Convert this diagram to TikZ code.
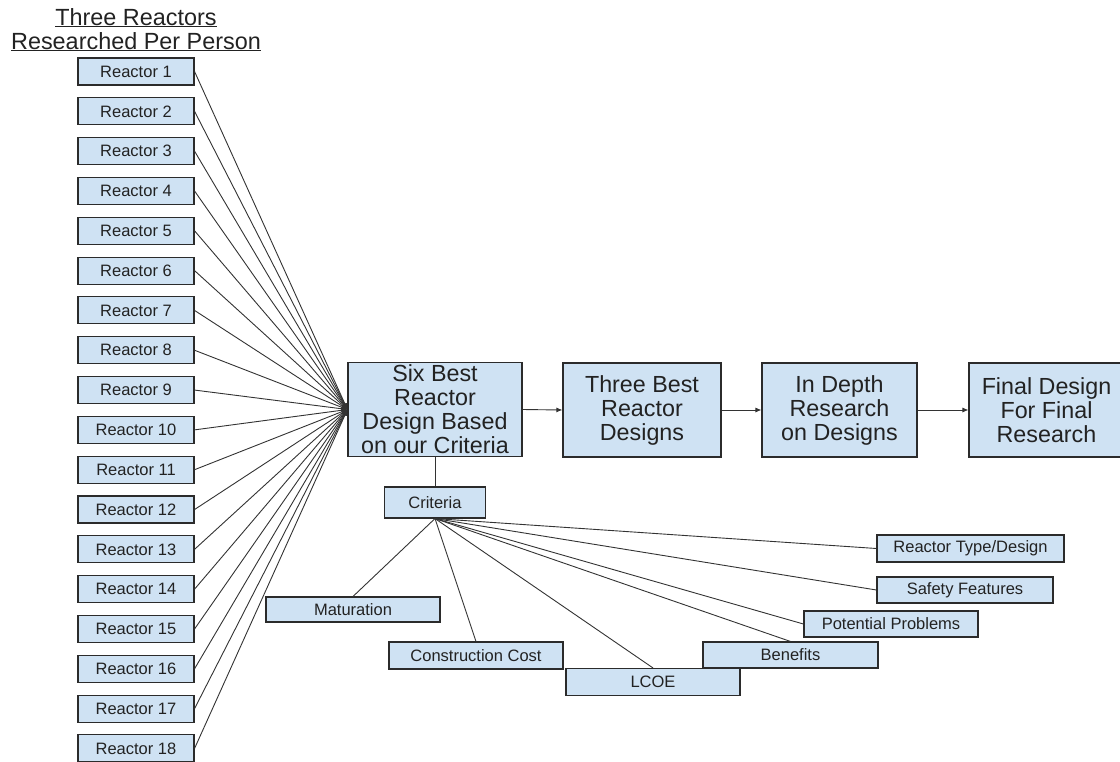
\documentclass[tikz,border=0pt]{standalone}
\usepackage{fontspec}
\setmainfont{Liberation Sans}
\usetikzlibrary{arrows.meta}
\definecolor{boxfill}{HTML}{CFE2F3}
\definecolor{boxedge}{HTML}{2B2B2B}
\definecolor{inkline}{HTML}{333333}
\definecolor{inktext}{HTML}{222222}
\tikzset{
  smallbox/.style={draw=boxedge, fill=boxfill, line width=1.1pt, inner sep=0pt,
    minimum height=27pt, text=inktext, font=\fontsize{16.5}{18}\selectfont},
  bigbox/.style={draw=boxedge, fill=boxfill, line width=1.1pt, inner sep=0pt,
    minimum height=94pt, align=center, text=inktext,
    font=\fontsize{23.3}{24}\selectfont},
  headline/.style={anchor=base, inner sep=0pt, text=inktext,
    font=\fontsize{23.4}{24}\selectfont},
  feed/.style={draw=inkline, line width=0.9pt,
    -{Latex[length=6pt,width=5pt]}},
  flow/.style={draw=inkline, line width=0.9pt,
    -{Latex[length=6pt,width=5pt]}},
  branch/.style={draw=inkline, line width=0.9pt},
}
\begin{document}
\begin{tikzpicture}[x=1pt, y=-1pt]
\useasboundingbox (0,0) rectangle (1120,761);
\begin{scope}
\clip (0,0) rectangle (1120,761);

% heading over the reactor column
\node[headline] (title1) at (136,25) {\underline{Three Reactors}};
\node[headline] (title2) at (136,49) {\underline{Researched Per Person}};

% main process chain
\node[bigbox, minimum width=174pt] (six) at (435,409.5)
  {Six Best\\Reactor\\Design Based\\on our Criteria};
\node[bigbox, minimum width=158pt] (three) at (642,410)
  {Three Best\\Reactor\\Designs};
\node[bigbox, minimum width=155pt] (depth) at (839.5,410)
  {In Depth\\Research\\on Designs};
\node[bigbox, minimum width=155pt] (final) at (1046.5,410)
  {Final Design\\For Final\\Research};

\draw[flow] (six.east) -- (three.west);
\draw[flow] (three.east) -- (depth.west);
\draw[flow] (depth.east) -- (final.west);

% eighteen reactors feeding the shortlist
\foreach \i in {1,...,18}{
  \node[smallbox, minimum width=116pt] (r\i) at (136,{71.5+(\i-1)*39.82}) {Reactor \i};
  \draw[feed] (r\i.east) -- (six.west);
}

% criteria and its branches
\node[smallbox, minimum width=101pt, minimum height=31pt] (crit) at (435,502.5) {Criteria};
\draw[branch] (six.south) -- (crit.north);

\node[smallbox, minimum width=174pt, minimum height=25pt] (mat) at (353,609.5) {Maturation};
\node[smallbox, minimum width=174pt] (cost) at (476,655.5) {Construction Cost};
\node[smallbox, minimum width=175pt, minimum height=26pt] (ben) at (790.5,655) {Benefits};
\node[smallbox, minimum width=174pt] (lcoe) at (653,682) {LCOE};
\node[smallbox, minimum width=174pt, minimum height=26pt] (prob) at (891,624) {Potential Problems};
\node[smallbox, minimum width=176pt, minimum height=26pt] (safe) at (965,590) {Safety Features};
\node[smallbox, minimum width=187pt] (type) at (970.5,548.5) {Reactor Type/Design};

\draw[branch] (crit.south) -- (mat.north);
\draw[branch] (crit.south) -- (cost.north);
\draw[branch] (crit.south) -- (lcoe.north);
\draw[branch] (crit.south) -- (ben.north);
\draw[branch] (crit.south) -- (prob.west);
\draw[branch] (crit.south) -- (safe.west);
\draw[branch] (crit.south) -- (type.west);
\end{scope}
\end{tikzpicture}
\end{document}
